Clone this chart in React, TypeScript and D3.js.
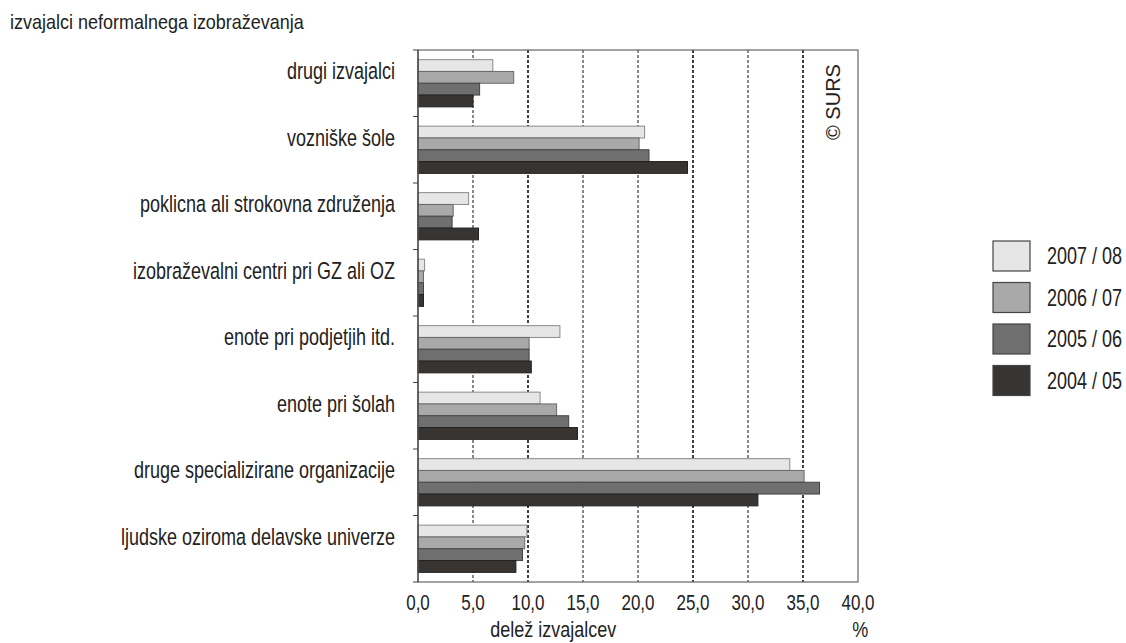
import React, { useRef, useEffect } from 'react';
import * as d3 from 'd3';

const categories = [
  'drugi izvajalci',
  'vozniške šole',
  'poklicna ali strokovna združenja',
  'izobraževalni centri pri GZ ali OZ',
  'enote pri podjetjih itd.',
  'enote pri šolah',
  'druge specializirane organizacije',
  'ljudske oziroma delavske univerze',
];

const seriesNames = ['2007 / 08', '2006 / 07', '2005 / 06', '2004 / 05'];

const values0708 = [6.8, 20.6, 4.6, 0.6, 12.9, 11.1, 33.8, 9.9];
const values0607 = [8.7, 20.1, 3.2, 0.5, 10.1, 12.6, 35.1, 9.7];
const values0506 = [5.6, 21.0, 3.1, 0.5, 10.1, 13.7, 36.5, 9.5];
const values0405 = [5.0, 24.5, 5.5, 0.5, 10.3, 14.5, 30.9, 8.9];

const seriesValues = [values0708, values0607, values0506, values0405];
const seriesColors = ['#e6e6e6', '#a9a9a9', '#6f6f6f', '#383431'];
const seriesStrokes = ['#8a8a8a', '#6a6a6a', '#444', '#222'];

const xTicks = [0, 5, 10, 15, 20, 25, 30, 35, 40];

const FONT = 'Arial, "Liberation Sans", sans-serif';
const STRETCH = 1.35; // text in the source is taller than it is wide

export default function App() {
  const svgRef = useRef<SVGSVGElement>(null);

  useEffect(() => {
    if (!svgRef.current) return;
    const width = 1126;
    const height = 643;
    const margin = { top: 50, left: 418, right: 268, bottom: 61 };
    const innerWidth = width - margin.left - margin.right;
    const innerHeight = height - margin.top - margin.bottom;

    const svg = d3.select(svgRef.current);
    svg.selectAll('*').remove();

    svg.append('rect').attr('width', width).attr('height', height).attr('fill', '#fff');

    // helper: stretched text placed at baseline (x, y)
    const label = (parent: any, x: number, y: number, txt: string, size: number, anchor = 'start', s = STRETCH) =>
      parent.append('text')
        .attr('transform', `translate(${x},${y}) scale(1,${s})`)
        .attr('text-anchor', anchor)
        .style('font-family', FONT)
        .style('font-size', `${size}px`)
        .style('fill', '#222')
        .text(txt);

    label(svg, 10, 29, 'izvajalci neformalnega izobraževanja', 18, 'start', 1.15);

    const g = svg.append('g').attr('transform', `translate(${margin.left},${margin.top})`);

    const xScale = d3.scaleLinear().domain([0, 40]).range([0, innerWidth]);
    const yScale = d3.scaleBand<string>().domain(categories).range([0, innerHeight]).paddingInner(0.29).paddingOuter(0.145);
    const inner = d3.scaleBand<number>().domain([0, 1, 2, 3]).range([0, yScale.bandwidth()]);

    // vertical dashed grid
    g.selectAll('line.grid')
      .data(xTicks.slice(1, -1))
      .enter()
      .append('line')
      .attr('class', 'grid')
      .attr('x1', d => xScale(d))
      .attr('x2', d => xScale(d))
      .attr('y1', 0)
      .attr('y2', innerHeight)
      .attr('stroke', '#111')
      .attr('stroke-width', d => (d === 10 || d === 25 || d === 35 ? 1.6 : 1))
      .attr('stroke-dasharray', '3,2');

    // bars
    seriesValues.forEach((vals, si) => {
      g.append('g')
        .selectAll('rect')
        .data(vals)
        .enter()
        .append('rect')
        .attr('x', 0)
        .attr('y', (d, i) => (yScale(categories[i]) as number) + (inner(si) as number))
        .attr('width', d => xScale(d))
        .attr('height', inner.bandwidth())
        .attr('fill', seriesColors[si])
        .attr('stroke', seriesStrokes[si])
        .attr('stroke-width', 1);
    });

    // frame
    g.append('rect')
      .attr('width', innerWidth)
      .attr('height', innerHeight)
      .attr('fill', 'none')
      .attr('stroke', '#666')
      .attr('stroke-width', 1.2);

    // y axis ticks at band boundaries
    const step = innerHeight / categories.length;
    g.selectAll('line.ytick')
      .data(d3.range(categories.length + 1))
      .enter()
      .append('line')
      .attr('x1', -5)
      .attr('x2', 0)
      .attr('y1', d => d * step)
      .attr('y2', d => d * step)
      .attr('stroke', '#444');

    g.append('line')
      .attr('x1', 0).attr('x2', 0).attr('y1', 0).attr('y2', innerHeight)
      .attr('stroke', '#444').attr('stroke-width', 1.2);

    // category labels
    categories.forEach(c => {
      label(g, -23, (yScale(c) as number) + yScale.bandwidth() / 2 - 4, c, 18, 'end');
    });

    // x tick labels
    xTicks.forEach(t => {
      label(g, xScale(t), innerHeight + 28, d3.format('.1f')(t).replace('.', ','), 17, 'middle');
    });

    label(g, xScale(12.3), innerHeight + 55, 'delež izvajalcev', 18, 'middle', 1.22);
    label(g, xScale(40.2), innerHeight + 55, '%', 18, 'middle', 1.22);

    // copyright
    g.append('text')
      .attr('transform', `translate(${xScale(38.36)},${52}) rotate(-90)`)
      .attr('text-anchor', 'middle')
      .style('font-family', FONT)
      .style('font-size', '20px')
      .style('fill', '#222')
      .text('© SURS');

    // legend
    const legend = svg.append('g').attr('transform', 'translate(993,241)');
    seriesNames.forEach((name, i) => {
      const lg = legend.append('g').attr('transform', `translate(0,${i * 41.5})`);
      lg.append('rect')
        .attr('width', 37)
        .attr('height', 30)
        .attr('fill', seriesColors[i])
        .attr('stroke', '#444')
        .attr('stroke-width', 1.2);
      label(lg, 54, 23, name, 18);
    });
  }, []);

  return (
    <svg
      ref={svgRef}
      width={1126}
      height={643}
      style={{ position: 'absolute', left: 0, top: 0, display: 'block' }}
    />
  );
}
